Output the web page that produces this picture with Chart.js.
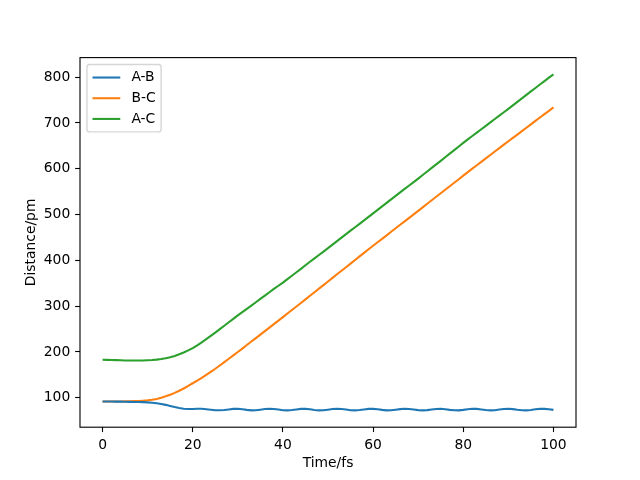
<!DOCTYPE html>
<html>
<head>
<meta charset="utf-8">
<title>Distance vs time</title>
<script src="https://cdn.jsdelivr.net/npm/chart.js@4.4.0/dist/chart.umd.min.js"></script>
<style>
  html, body { margin: 0; padding: 0; background: #fff; }
  #wrap { width: 640px; height: 480px; }
</style>
</head>
<body>
<div id="wrap"><canvas id="chart" width="640" height="480"></canvas></div>
<script>
// ---- Data ----
const TIME = [
  0, 1, 2, 3, 4, 5, 6, 7, 8, 9,
  10, 11, 12, 13, 14, 15, 16, 17, 18, 19,
  20, 21, 22, 23, 24, 25, 26, 27, 28, 29,
  30, 31, 32, 33, 34, 35, 36, 37, 38, 39,
  40, 41, 42, 43, 44, 45, 46, 47, 48, 49,
  50, 51, 52, 53, 54, 55, 56, 57, 58, 59,
  60, 61, 62, 63, 64, 65, 66, 67, 68, 69,
  70, 71, 72, 73, 74, 75, 76, 77, 78, 79,
  80, 81, 82, 83, 84, 85, 86, 87, 88, 89,
  90, 91, 92, 93, 94, 95, 96, 97, 98, 99,
  100
];

const AB = [
  92.0, 91.9, 91.8, 91.7, 91.6, 91.4, 91.2, 91.0, 90.8, 90.5,
  90.1, 89.3, 88.2, 86.6, 84.6, 82.3, 79.8, 77.6, 76.0, 75.4,
  75.6, 76.0, 76.0, 75.2, 74.0, 72.9, 72.7, 73.4, 74.6, 75.8,
  76.0, 75.0, 73.6, 72.6, 72.8, 74.0, 75.4, 76.1, 75.6, 74.3,
  73.0, 72.5, 73.2, 74.6, 75.8, 75.9, 74.9, 73.5, 72.6, 72.8,
  74.0, 75.4, 76.1, 75.6, 74.3, 73.0, 72.5, 73.2, 74.6, 75.8,
  75.9, 74.9, 73.6, 72.6, 72.7, 73.9, 75.3, 76.1, 75.7, 74.4,
  73.1, 72.5, 73.1, 74.5, 75.7, 76.0, 75.1, 73.7, 72.7, 72.6,
  73.7, 75.1, 76.0, 75.8, 74.6, 73.2, 72.5, 73.0, 74.3, 75.6,
  76.1, 75.3, 73.9, 72.8, 72.5, 73.5, 74.9, 75.9, 75.9, 74.9,
  73.6
];

const BC = [
  92.0, 92.0, 92.0, 92.0, 92.1, 92.2, 92.4, 92.7, 93.1, 93.7,
  94.5, 95.6, 97.6, 100.2, 103.3, 106.8, 110.8, 115.3, 120.4, 125.9,
  131.8, 137.6, 143.6, 149.9, 156.5, 163.4, 170.5, 177.8, 185.2, 192.7,
  200.0, 207.5, 215.3, 222.9, 230.3, 237.8, 245.6, 253.3, 260.9, 268.4,
  276.0, 283.9, 291.7, 299.3, 307.0, 314.8, 322.7, 330.5, 338.2, 346.0,
  354.0, 361.9, 369.7, 377.4, 385.1, 392.9, 400.8, 408.7, 416.5, 424.2,
  432.0, 439.5, 447.0, 454.7, 462.5, 470.2, 477.8, 485.3, 492.8, 500.4,
  508.0, 515.8, 523.6, 531.3, 538.9, 546.5, 554.2, 561.9, 569.5, 577.2,
  585.0, 592.6, 600.2, 607.7, 615.1, 622.5, 630.0, 637.6, 645.1, 652.6,
  660.0, 667.3, 674.6, 682.0, 689.5, 697.0, 704.5, 711.9, 719.2, 726.5,
  734.0
];

const AC = [
  183.0, 182.8, 182.5, 182.2, 181.9, 181.6, 181.4, 181.3, 181.3, 181.5,
  181.9, 182.5, 183.4, 184.6, 186.3, 188.5, 191.4, 195.0, 199.0, 203.5,
  208.4, 214.6, 221.2, 228.0, 235.0, 242.2, 249.8, 257.4, 264.9, 272.4,
  279.8, 287.1, 294.3, 301.4, 308.6, 315.9, 323.2, 330.5, 337.6, 344.6,
  351.6, 359.0, 366.5, 374.0, 381.6, 389.3, 396.9, 404.4, 411.8, 419.2,
  426.6, 434.3, 442.0, 449.7, 457.3, 464.8, 472.3, 479.8, 487.3, 494.9,
  502.6, 510.3, 518.0, 525.6, 533.2, 540.8, 548.4, 556.0, 563.5, 571.0,
  578.6, 586.3, 594.0, 601.8, 609.6, 617.3, 625.2, 633.0, 640.8, 648.7,
  656.6, 664.2, 671.6, 678.9, 686.3, 693.7, 701.2, 708.6, 716.0, 723.4,
  730.8, 738.4, 746.0, 753.6, 761.2, 768.8, 776.4, 783.9, 791.4, 798.8,
  806.0
];

const SERIES_LABELS = ["A-B", "B-C", "A-C"];
const SERIES_COLORS = ["#1f77b4", "#ff7f0e", "#2ca02c"];
const X_TICKS = [0, 20, 40, 60, 80, 100];
const Y_TICKS = [100, 200, 300, 400, 500, 600, 700, 800];

// ---- Look (matplotlib defaults at 100 dpi) ----
const PT = 100 / 72;
const FONT = "'DejaVu Sans', sans-serif";
const FS = 10 * PT;

// axis limits with matplotlib's 5% margins
function padRange(vals) {
  const lo = Math.min(...vals), hi = Math.max(...vals);
  const m = (hi - lo) * 0.05;
  return [lo - m, hi + m];
}
const [xMin, xMax] = padRange(TIME);
const [yMin, yMax] = padRange([...AB, ...BC, ...AC]);

const toPoints = ys => TIME.map((t, i) => ({ x: t, y: ys[i] }));

// full black box round the plot area
const framePlugin = {
  id: 'frame',
  afterDraw(chart) {
    const { ctx, chartArea: a } = chart;
    ctx.save();
    ctx.strokeStyle = '#000';
    ctx.lineWidth = 0.8 * PT;
    ctx.strokeRect(a.left, a.top, a.right - a.left, a.bottom - a.top);
    ctx.restore();
  }
};

// legend in the upper left corner, inside the axes
const legendPlugin = {
  id: 'mplLegend',
  afterDatasetsDraw(chart) {
    const { ctx, chartArea: a } = chart;
    const sets = chart.data.datasets;
    ctx.save();
    ctx.font = `${FS}px ${FONT}`;
    const textW = Math.max(...sets.map(d => ctx.measureText(d.label).width));
    const pad = 0.4 * FS, handle = 2 * FS, gap = 0.8 * FS, step = 1.49 * FS;
    const x0 = a.left + 0.5 * FS, y0 = a.top + 0.5 * FS;
    const w = pad + handle + gap + textW + pad;
    const h = 2 * pad + step * (sets.length - 1) + 1.07 * FS;

    ctx.beginPath();
    ctx.roundRect(x0, y0, w, h, 0.2 * FS);
    ctx.fillStyle = 'rgba(255,255,255,0.8)';
    ctx.fill();
    ctx.lineWidth = 1 * PT;
    ctx.strokeStyle = 'rgba(204,204,204,0.8)';
    ctx.stroke();

    sets.forEach((d, i) => {
      const cy = y0 + pad + 0.535 * FS + i * step;
      ctx.beginPath();
      ctx.moveTo(x0 + pad, cy);
      ctx.lineTo(x0 + pad + handle, cy);
      ctx.strokeStyle = d.borderColor;
      ctx.lineWidth = 1.5 * PT;
      ctx.stroke();
      ctx.fillStyle = '#000';
      ctx.textBaseline = 'middle';
      ctx.fillText(d.label, x0 + pad + handle + gap, cy);
    });
    ctx.restore();
  }
};

const tickFont = { family: FONT, size: FS };
const axisGrid = {
  drawOnChartArea: false,
  drawTicks: true,
  tickLength: 3.5 * PT,
  tickWidth: 0.8 * PT,
  tickColor: '#000'
};

new Chart(document.getElementById('chart'), {
  type: 'line',
  data: {
    datasets: [AB, BC, AC].map((ys, i) => ({
      label: SERIES_LABELS[i],
      data: toPoints(ys),
      borderColor: SERIES_COLORS[i],
      backgroundColor: SERIES_COLORS[i],
      borderWidth: 1.5 * PT,
      pointRadius: 0,
      tension: 0,
      fill: false
    }))
  },
  options: {
    responsive: false,
    animation: false,
    devicePixelRatio: 1,
    layout: { padding: { left: 0, top: 57.6, right: 64, bottom: 0 } },
    plugins: { legend: { display: false }, tooltip: { enabled: false } },
    scales: {
      x: {
        type: 'linear',
        min: xMin,
        max: xMax,
        afterBuildTicks: s => { s.ticks = X_TICKS.map(v => ({ value: v })); },
        afterFit: s => { s.height = 52.8; },
        grid: axisGrid,
        border: { display: false },
        ticks: { color: '#000', font: tickFont, padding: 3.5 * PT, maxRotation: 0, autoSkip: false },
        title: { display: true, text: 'Time/fs', color: '#000', font: tickFont, padding: 8.7 }
      },
      y: {
        type: 'linear',
        min: yMin,
        max: yMax,
        afterBuildTicks: s => { s.ticks = Y_TICKS.map(v => ({ value: v })); },
        afterFit: s => { s.width = 80; },
        grid: axisGrid,
        border: { display: false },
        ticks: { color: '#000', font: tickFont, padding: 3.5 * PT, autoSkip: false },
        title: { display: true, text: 'Distance/pm', color: '#000', font: tickFont, padding: 22.7 }
      }
    }
  },
  plugins: [framePlugin, legendPlugin]
});
</script>
</body>
</html>
